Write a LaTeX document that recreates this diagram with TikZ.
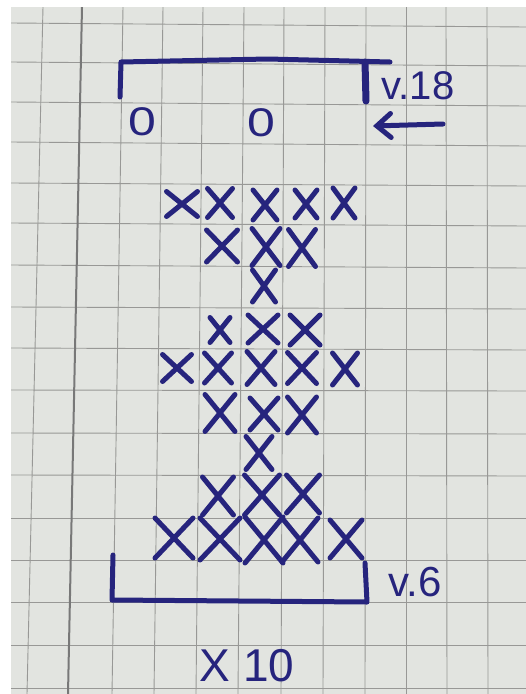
\documentclass[tikz,border=0pt]{standalone}
\usepackage{fontspec}
\setmainfont{Liberation Sans}
\usetikzlibrary{shapes.misc, arrows.meta}
\definecolor{PaperGray}{RGB}{226,228,224}
\definecolor{GridGray}{RGB}{152,152,150}
\definecolor{MarginGray}{RGB}{120,120,120}
\definecolor{InkNavy}{RGB}{38,36,125}

\begin{document}
\begin{tikzpicture}[x=1pt, y=-1pt,
          ink/.style={draw=InkNavy, line width=5pt, line cap=round,
                      line join=round},
          stitch/.style={cross out, draw=InkNavy, line width=5pt,
                         line cap=round, inner sep=0pt},
          lbl/.style={text=InkNavy, inner sep=0pt,
                      font=\fontsize{#1}{#1}\selectfont},
          lbl/.default=40
        ]
        \useasboundingbox (0,0) rectangle (526,694);

        % Paper and squares
        \fill[white] (0,0) rectangle (526,694);
        \fill[PaperGray] (11,7) rectangle (526,694);
        \begin{scope}
          \clip (11,7) rectangle (526,694);
          \foreach \t/\b in {43/27, 123/112, 163/154, 203/196, 244/238,
                             284/281, 325/323, 366/365, 406/406, 446/447,
                             487/488}
            \draw[GridGray, line width=0.9pt] (\t,7) -- (\b,694);
          \foreach \l/\r in {23/27, 62/66, 102/106, 142/146, 183/186,
                             223/226, 265/268, 307/309, 348/350, 390/391,
                             433/434, 475/476, 518/518, 560/560, 602/602,
                             645/645, 688/688}
            \draw[GridGray, line width=0.9pt] (11,\l) -- (526,\r);
          \draw[MarginGray, line width=2pt] (82,7) -- (68,694);
        \end{scope}

        % Top row: bracket, chains, turning arrow
        \draw[ink] (120,97) -- (121,62) -- (268,59) -- (390,62);
        \draw[ink, line width=7pt] (365,62) -- (366,101);
        \node[lbl=40] (toprow) at (418,86) {v.18};
        \node[lbl] (chainl) at (142,122) {\scalebox{1.25}[1]{0}};
        \node[lbl] (chainr) at (261,123) {\scalebox{1.25}[1]{0}};
        \coordinate (turnstart) at (443,124);
        \coordinate (turnend) at (373,126);
        \draw[ink, -{Straight Barb[length=14pt, width=24pt, line cap=round]}]
              (turnstart) -- (turnend);

        % Stitches, row by row
        \foreach \nm/\cx/\cy/\w/\h in {
            a1/182/204/26/20, a2/220/203/20/24, a3/265/205/19/25,
            a4/306/204/17/23, a5/344/203/17/25,
            b1/222/246/26/27, b2/266/247/23/32, b3/302/248/22/32,
            c1/264/286/18/27,
            d1/220/330/15/20, d2/263/329/25/23, d3/305/330/25/25,
            e1/177/368/24/22, e2/218/368/22/25, e3/261/368/23/28,
            e4/302/368/24/26, e5/345/369/20/27,
            f1/220/413/25/32, f2/264/414/23/27, f3/302/415/24/31,
            g1/259/453/21/28,
            h1/218/496/26/33, h2/262/495/30/35, h3/303/494/28/33,
            i1/174/538/33/35, i2/220/539/35/37, i3/264/540/33/41,
            i4/300/540/31/39, i5/346/539/27/33}
          \node[stitch, minimum width=\w pt, minimum height=\h pt]
                (\nm) at (\cx,\cy) {};

        % Bottom row: bracket and repeat
        \draw[ink] (113,555) -- (112,600) -- (367,602) -- (365,563);
        \node[lbl=42] (baserow) at (415,582) {v.6};
        \node[lbl=46] (repeat) at (247,666) {X 10};
      \end{tikzpicture}
\end{document}
